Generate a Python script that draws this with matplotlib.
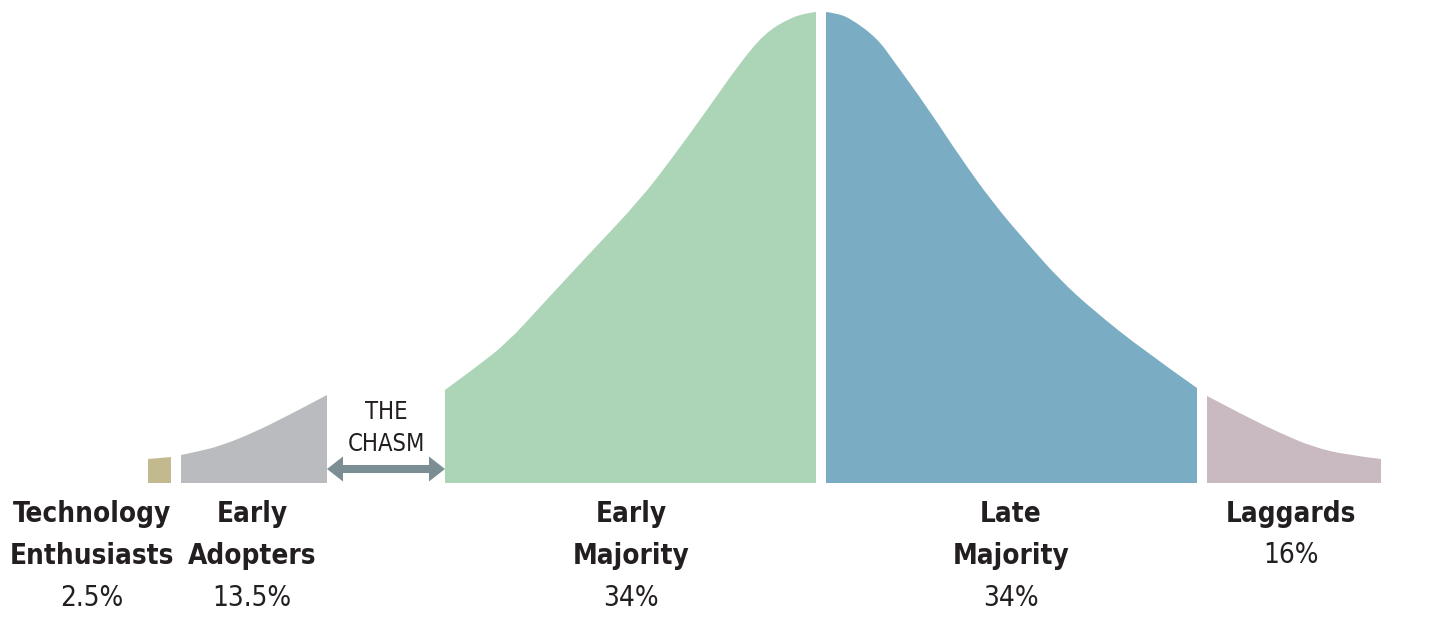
import matplotlib.pyplot as plt
from matplotlib.path import Path
from matplotlib.patches import PathPatch

# segment outlines (x, top of curve), baseline = 483
baseline = 483

tech_x = [148, 171]
tech_y = [459, 457]

adopt_x = [181, 200, 220, 253, 287, 310, 327]
adopt_y = [455, 451, 446, 433, 416, 404, 395]

early_x = [445, 475, 507, 540, 590, 640, 673, 707, 740, 765, 790, 807, 816]
early_y = [390, 368, 343, 307, 253, 200, 157, 110, 63, 33, 18, 13, 12]

late_x = [826, 835, 850, 877, 893, 927, 960, 993, 1027, 1060, 1093, 1143, 1197]
late_y = [12, 13, 18, 38, 60, 107, 157, 203, 243, 280, 310, 350, 388]

lag_x = [1207, 1247, 1280, 1313, 1347, 1381]
lag_y = [396, 417, 433, 447, 455, 459]

segments = [
    (tech_x, tech_y, '#c2b98f'),
    (adopt_x, adopt_y, '#b9bbbf'),
    (early_x, early_y, '#acd4b7'),
    (late_x, late_y, '#7aadc3'),
    (lag_x, lag_y, '#c9b9c1'),
]

names = ['Technology\nEnthusiasts', 'Early\nAdopters', 'Early\nMajority', 'Late\nMajority', 'Laggards']
shares = ['2.5%', '13.5%', '34%', '34%', '16%']
label_x = [92, 252, 631, 1011, 1291]
name_top = 500
pct_y = [598, 598, 598, 598, 555]

chasm_start, chasm_end, chasm_y = 327, 445, 469

fnt = ['DejaVu Sans']
ink = '#231f20'

fig = plt.figure(figsize=(14.56, 6.26), dpi=100)
ax = fig.add_axes([0, 0, 1, 1])
ax.set_xlim(0, 1456)
ax.set_ylim(626, 0)
ax.axis('off')


def smooth_patch(xs, ys, col):
    # closed shape: baseline, then top edge drawn as a quadratic spline
    verts = [(xs[0], baseline), (xs[0], ys[0])]
    codes = [Path.MOVETO, Path.LINETO]
    n = len(xs)
    if n == 2:
        verts.append((xs[1], ys[1]))
        codes.append(Path.LINETO)
    else:
        for i in range(1, n - 1):
            if i < n - 2:
                end = ((xs[i] + xs[i + 1]) / 2, (ys[i] + ys[i + 1]) / 2)
            else:
                end = (xs[-1], ys[-1])
            verts += [(xs[i], ys[i]), end]
            codes += [Path.CURVE3, Path.CURVE3]
    verts += [(xs[-1], baseline), (xs[0], baseline)]
    codes += [Path.LINETO, Path.CLOSEPOLY]
    ax.add_patch(PathPatch(Path(verts, codes), facecolor=col, edgecolor='none'))


for xs, ys, col in segments:
    smooth_patch(xs, ys, col)

# the chasm: two arrows pointing outwards from the middle
mid = (chasm_start + chasm_end) / 2
for end in (chasm_start, chasm_end):
    ax.arrow(mid, chasm_y, end - mid, 0, width=8, head_width=25, head_length=16,
             length_includes_head=True, color='#7a8e94', lw=0)
ax.text(mid, 428, 'THE\nCHASM', ha='center', va='center',
        fontsize=17, family=fnt, fontstretch='condensed',
        color=ink, linespacing=1.45)

for x, n, p, py in zip(label_x, names, shares, pct_y):
    ax.text(x, name_top, n, ha='center', va='top', fontsize=20, fontweight='bold',
            family=fnt, fontstretch='condensed', color=ink,
            linespacing=1.65)
    ax.text(x, py, p, ha='center', va='center', fontsize=20,
            family=fnt, fontstretch='condensed', color=ink)

fig.savefig('out.png', dpi=100)
